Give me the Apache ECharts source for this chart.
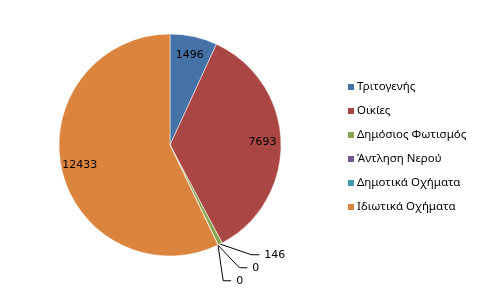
<!DOCTYPE html>
<html><head><meta charset="utf-8">
<script src="https://cdn.jsdelivr.net/npm/echarts@6/dist/echarts.min.js"></script>
<style>html,body{margin:0;padding:0;background:#fff}#c{width:482px;height:290px}</style>
</head><body><div id="c"></div>
<script>
var categories = ['Τριτογενής', 'Οικίες', 'Δημόσιος Φωτισμός', 'Άντληση Νερού', 'Δημοτικά Οχήματα', 'Ιδιωτικά Οχήματα'];
var values = [1496, 7693, 146, 0, 0, 12433];
var colors = ['#4572A7', '#AA4643', '#89A54E', '#71588F', '#4198AF', '#DB843D'];

var bigThreshold = 1000;
var mainData = categories.map(function (n, i) {
  var big = values[i] > bigThreshold;
  return { name: n, value: values[i], itemStyle: { color: colors[i] },
    label: { show: !big }, labelLine: { show: !big } };
});
var labelData = categories.map(function (n, i) {
  var big = values[i] > bigThreshold;
  return { name: n, value: values[i], label: { show: big } };
});

var chart = echarts.init(document.getElementById('c'), null, { renderer: 'canvas' });
chart.setOption({
  animation: false,
  color: colors,
  legend: {
    orient: 'vertical', left: 341, top: 76,
    itemWidth: 8, itemHeight: 8, itemGap: 12, icon: 'rect',
    textStyle: { fontFamily: 'Noto Sans', fontSize: 11.5, color: '#000', padding: [0, 0, 0, -3] },
    data: categories
  },
  series: [{
    type: 'pie', center: [170, 145], radius: [0, 111],
    startAngle: 90, clockwise: true,
    avoidLabelOverlap: true,
    itemStyle: { borderColor: '#fff', borderWidth: 0.5 },
    label: { position: 'outside', color: '#000', fontFamily: 'DejaVu Sans', fontSize: 11, formatter: '{c}' },
    labelLine: { length: 12, length2: 8, lineStyle: { color: '#000', width: 1 } },
    data: mainData
  }, {
    type: 'pie', center: [170, 145], radius: [68, 111],
    startAngle: 90, clockwise: true, silent: true,
    itemStyle: { color: 'rgba(0,0,0,0)' },
    label: { position: 'inside', color: '#000', fontFamily: 'DejaVu Sans', fontSize: 11, formatter: '{c}' },
    labelLine: { show: false },
    data: labelData
  }]
});
</script></body></html>
